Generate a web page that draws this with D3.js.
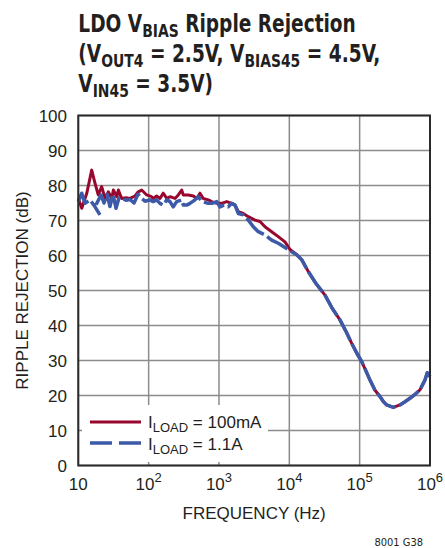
<!DOCTYPE html>
<meta charset="utf-8">
<style>
  body { margin: 0; background: #fff; }
  text { font-family: "Liberation Sans", Arial, sans-serif; fill: #231f20; }
  .narrow { font-family: "Liberation Sans Narrow", "DejaVu Sans Condensed", sans-serif; }
  .grid line { stroke: #8c8c8c; stroke-width: 1.5; }
</style>
<svg id="chart" width="445" height="548"></svg>
<script src="https://cdn.jsdelivr.net/npm/d3@7/dist/d3.min.js"></script>
<script>
var freqTicks = [10, 1e2, 1e3, 1e4, 1e5, 1e6];
var dbTicks = [0, 10, 20, 30, 40, 50, 60, 70, 80, 90, 100];

// I_LOAD = 100mA
var redFreq = [10, 11.2, 13.2, 15.5, 17.3, 19.2, 21.5, 24, 26.7, 29.9, 31.5, 35.2, 37.1, 41.4, 47.6, 54.3, 64, 71.3, 79.6, 93.8,
  110, 116, 130, 145, 161, 181, 201, 237, 264, 295, 311, 366, 432, 482, 537, 598, 705, 787, 929,
  1094, 1288, 1517, 1690, 1884, 2218, 2612, 3251, 3828, 4508, 5610, 6966, 8670,
  10230, 12740, 15000, 18620, 23930, 32140, 40460, 52480, 63970, 77090, 91620,
  106900, 123000, 140300, 165200, 194500, 218300, 242100, 300600, 374100, 440600, 518800, 610900, 719400, 847200, 914100, 1000000];
var redDb = [76.3, 73.5, 77.8, 84.4, 80.6, 77.3, 79.7, 76.3, 78.2, 76.3, 78.7, 76.8, 78.7, 76.3, 76.5, 76.3, 77, 78.2, 78.7, 77.3,
  76.8, 76.3, 77, 76.3, 77.8, 76.3, 76.8, 76.3, 77.3, 78.7, 77.3, 77.3, 77, 76.3, 77.8, 76.3, 75.9, 75.4, 74.9,
  74.9, 75.4, 74.9, 74.4, 72.5, 72, 71.1, 70.1, 69.7, 68.2, 66.8, 65.4, 63.9,
  61.7, 60.2, 58.8, 55.4, 52, 48.7, 45, 41.6, 38.3, 34.9, 32,
  29.7, 27, 24.4, 21.5, 19.7, 18.2, 17.3, 16.6, 17.3, 18.2, 19.2, 20.3, 21.6, 24.4, 26.5, 25.4];

// I_LOAD = 1.1A (two pieces, the short low-frequency branch and the main sweep)
var blueFreqA = [10, 11.2, 12.4, 14.7, 17.3, 20.3];
var blueDbA = [75.4, 77.8, 74.9, 75.9, 73.9, 71.6];
var blueFreqB = [17.9, 21, 23.2, 25.6, 28.2, 31.1, 34.4, 37.9, 41.8, 47.6, 54.3, 61.9, 70.6, 77.9, 88.8,
  104, 116, 130, 145, 161, 181, 201, 224, 250, 295, 311, 348, 387, 456, 508, 573, 705, 796, 929,
  1033, 1178, 1355, 1517, 1690, 1884, 2218, 2612, 3076, 3622, 4508, 5610, 6966, 8670,
  10790, 12740, 15000, 18620, 23930, 32140, 40460, 52480, 63970, 77090, 91620,
  106900, 123000, 140300, 165200, 194500, 218300, 242100, 300600, 374100, 440600, 518800, 610900, 719400, 847200, 914100, 1000000];
var blueDbB = [74.5, 77.3, 75, 77.5, 74, 77.5, 73.5, 76.5, 76.3, 75.8, 76, 75, 77.5, 76.5, 75.5,
  75.9, 75.4, 75.9, 74.9, 74.4, 75.9, 75.4, 73.9, 75.4, 75.9, 74.4, 74.4, 74.9, 75.9, 76.8, 75.4, 74.9, 74.9, 75.4,
  73.9, 74.4, 73.9, 74.9, 74.4, 72, 71.6, 70.1, 68.2, 66.8, 65.9, 64.4, 63.5, 62.3,
  61.1, 60.2, 58.8, 55.4, 52, 48.7, 45, 41.6, 38.3, 34.9, 32,
  29.7, 27, 24.4, 21.5, 19.7, 18.2, 17.3, 16.6, 17.3, 18.2, 19.2, 20.3, 21.6, 24.4, 26.5, 25.4];

var redColor = "#98072e", blueColor = "#3d5aa8";

var plotL = 78.3, plotR = 430, plotT = 115.5, plotB = 465.5;

var svg = d3.select("#chart");

var x = d3.scaleLog().domain([10, 1e6]).range([plotL, plotR]);
var y = d3.scaleLinear().domain([0, 100]).range([plotB, plotT]);

// title, squeezed sideways to mimic a condensed bold face
var titleG = svg.append("g").attr("transform", "translate(" + plotL + ",0) scale(0.86,1)");
function titleLine(parts, yy) {
  var t = titleG.append("text").attr("class", "narrow")
    .attr("font-weight", "bold").attr("font-size", 24)
    .attr("x", 0).attr("y", yy);
  parts.forEach(function (p) {
    var s = t.append("tspan").text(p[0]);
    if (p[1]) s.attr("font-size", 18).attr("dy", 5);
    if (p[2]) s.attr("dy", -5);
  });
}
titleLine([["LDO V"], ["BIAS", 1], [" Ripple Rejection", 0, 1]], 32);
titleLine([["(V"], ["OUT4", 1], [" = 2.5V, V", 0, 1], ["BIAS45", 1], [" = 4.5V,", 0, 1]], 62);
titleLine([["V"], ["IN45", 1], [" = 3.5V)", 0, 1]], 92);

// grid
var grid = svg.append("g").attr("class", "grid");
grid.selectAll(".gx").data(freqTicks).enter().append("line")
  .attr("x1", d => x(d)).attr("x2", d => x(d))
  .attr("y1", plotT).attr("y2", plotB);
grid.selectAll(".gy").data(dbTicks).enter().append("line")
  .attr("y1", d => y(d)).attr("y2", d => y(d))
  .attr("x1", plotL).attr("x2", plotR);

// legend backdrop hides the grid under it
svg.append("rect").attr("x", 82).attr("y", 405).attr("width", 186).attr("height", 57).attr("fill", "#fff");

// curves
var line = d3.line().defined(d => d != null).x(d => x(d[0])).y(d => y(d[1]));
var redPts = redFreq.map((f, i) => [f, redDb[i]]);
var bluePts = blueFreqA.map((f, i) => [f, blueDbA[i]]).concat([null], blueFreqB.map((f, i) => [f, blueDbB[i]]));

svg.append("path").datum(redPts).attr("d", line)
  .attr("fill", "none").attr("stroke", redColor).attr("stroke-width", 3).attr("stroke-linejoin", "round");
svg.append("path").datum(bluePts).attr("d", line)
  .attr("fill", "none").attr("stroke", blueColor).attr("stroke-width", 3.5)
  .attr("stroke-dasharray", "24,4").attr("stroke-linejoin", "round");

// frame
svg.append("rect").attr("x", plotL).attr("y", plotT).attr("width", plotR - plotL).attr("height", plotB - plotT)
  .attr("fill", "none").attr("stroke", "#2b2b2b").attr("stroke-width", 2);

// y tick labels
svg.selectAll(".yl").data(dbTicks).enter().append("text")
  .attr("x", 67).attr("y", d => y(d) + 6)
  .attr("text-anchor", "end").attr("font-size", 17).text(d => d);

// x tick labels
svg.selectAll(".xl").data(freqTicks).enter().append("text")
  .attr("x", d => x(d)).attr("y", 490)
  .attr("text-anchor", "middle").attr("font-size", 17)
  .each(function (d) {
    var t = d3.select(this);
    var p = Math.round(Math.log10(d));
    t.append("tspan").text("10");
    if (p > 1) t.append("tspan").attr("font-size", 13).attr("dy", -8).text(p);
  });

// axis titles
svg.append("text").attr("x", (plotL + plotR) / 2).attr("y", 519)
  .attr("text-anchor", "middle").attr("font-size", 17).text("FREQUENCY (Hz)");
svg.append("text").attr("transform", "translate(28," + (plotT + plotB) / 2 + ") rotate(-90)")
  .attr("text-anchor", "middle").attr("font-size", 17).text("RIPPLE REJECTION (dB)");

// legend
svg.append("line").attr("x1", 90).attr("x2", 141).attr("y1", 422).attr("y2", 422)
  .attr("stroke", redColor).attr("stroke-width", 3);
svg.append("line").attr("x1", 90).attr("x2", 141).attr("y1", 443).attr("y2", 443)
  .attr("stroke", blueColor).attr("stroke-width", 3.5).attr("stroke-dasharray", "22,7");
function legendText(sub, rest, yy) {
  var t = svg.append("text").attr("x", 148).attr("y", yy).attr("font-size", 17);
  t.append("tspan").text("I");
  t.append("tspan").attr("font-size", 13).attr("dy", 4).text(sub);
  t.append("tspan").attr("dy", -4).text(rest);
}
legendText("LOAD", " = 100mA", 428);
legendText("LOAD", " = 1.1A", 450);

svg.append("text").attr("class", "narrow").attr("x", 423).attr("y", 546)
  .attr("text-anchor", "end").attr("font-size", 11).text("8001 G38");
</script>
